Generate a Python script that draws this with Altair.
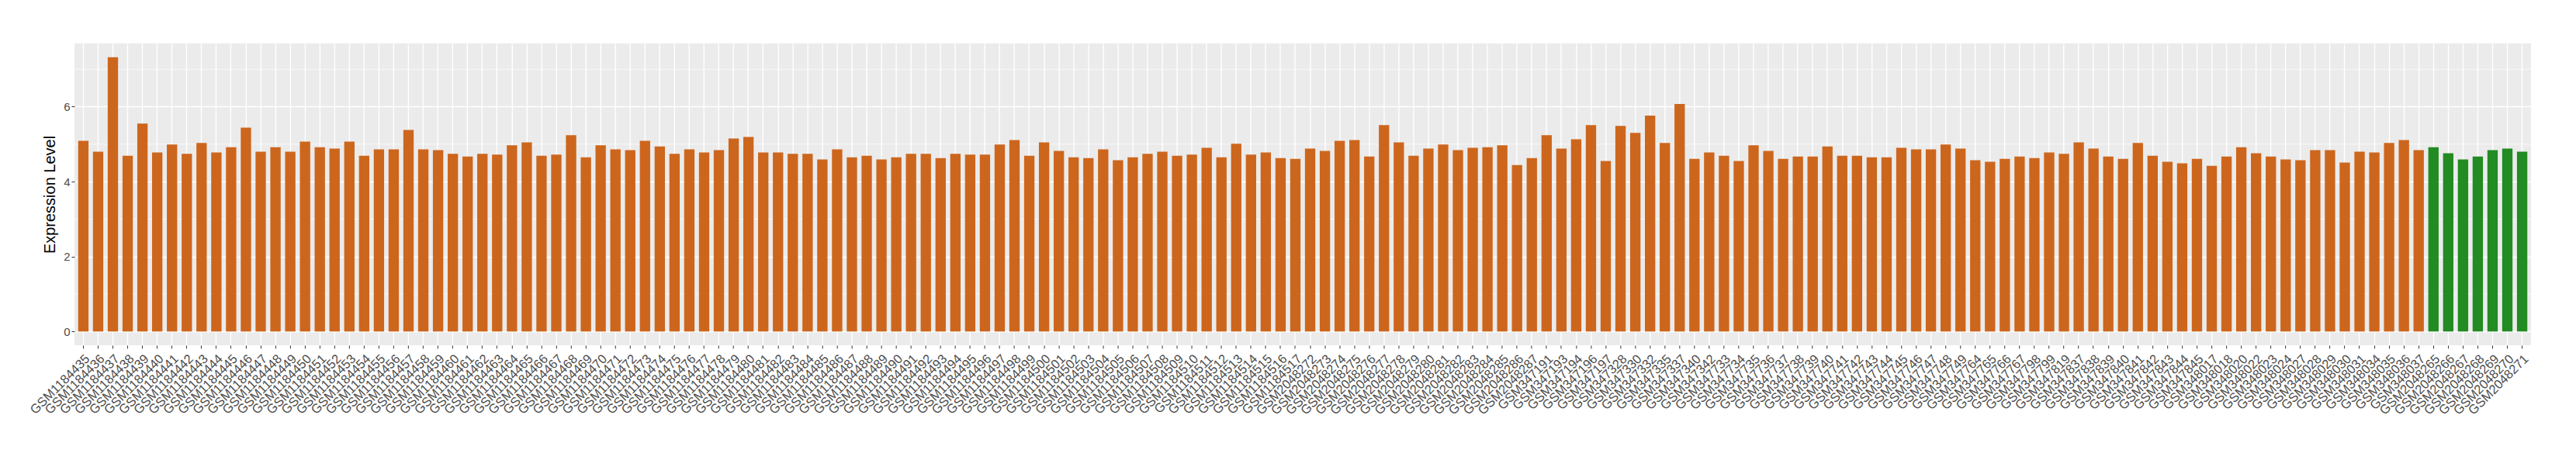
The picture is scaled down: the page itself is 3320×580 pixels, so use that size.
import altair as alt
import pandas as pd

# ---- data ----
ids_a = [f"GSM{n}" for n in range(1184435, 1184518)]
ids_b = [f"GSM{n}" for n in range(2048272, 2048288)]
ids_c = ["GSM347191", "GSM347193", "GSM347194", "GSM347196", "GSM347197",
         "GSM347328", "GSM347330", "GSM347332", "GSM347335", "GSM347337",
         "GSM347340", "GSM347342", "GSM347733", "GSM347734", "GSM347735",
         "GSM347736", "GSM347737", "GSM347738", "GSM347739", "GSM347740",
         "GSM347741", "GSM347742", "GSM347743", "GSM347744", "GSM347745",
         "GSM347746", "GSM347747", "GSM347748", "GSM347749", "GSM347764",
         "GSM347765", "GSM347766", "GSM347767", "GSM347798", "GSM347799",
         "GSM347819", "GSM347837", "GSM347838", "GSM347839", "GSM347840",
         "GSM347841", "GSM347842", "GSM347843", "GSM347844", "GSM347845",
         "GSM348017", "GSM348018", "GSM348020", "GSM348022", "GSM348023",
         "GSM348024", "GSM348027", "GSM348028", "GSM348029", "GSM348030",
         "GSM348031", "GSM348034", "GSM348035", "GSM348036", "GSM348037"]
ids_d = [f"GSM{n}" for n in range(2048265, 2048272)]

samples = ids_a + ids_b + ids_c + ids_d

values = [
    5.09, 4.80, 7.32, 4.69, 5.55, 4.78, 4.99, 4.74, 5.03, 4.78,
    4.92, 5.44, 4.80, 4.92, 4.80, 5.07, 4.92, 4.88, 5.07, 4.69,
    4.86, 4.86, 5.38, 4.86, 4.84, 4.74, 4.67, 4.74, 4.72, 4.97,
    5.05, 4.69, 4.72, 5.24, 4.65, 4.97, 4.86, 4.84, 5.09, 4.94,
    4.74, 4.86, 4.78, 4.84, 5.15, 5.19, 4.78, 4.78, 4.74, 4.74,
    4.59, 4.86, 4.65, 4.69, 4.59, 4.65, 4.74, 4.74, 4.63, 4.74,
    4.72, 4.72, 4.99, 5.11, 4.69, 5.05, 4.82, 4.65, 4.63, 4.86,
    4.57, 4.65, 4.74, 4.80, 4.69, 4.72, 4.90, 4.65, 5.01, 4.72,
    4.78, 4.63, 4.61, 4.88, 4.82, 5.09, 5.11, 4.67, 5.51, 5.05,
    4.69, 4.88, 4.99, 4.84, 4.90, 4.92, 4.97, 4.44, 4.63, 5.24,
    4.88, 5.13, 5.51, 4.55, 5.49, 5.30, 5.76, 5.03, 6.07, 4.61,
    4.78, 4.69, 4.55, 4.97, 4.82, 4.61, 4.67, 4.67, 4.94, 4.69,
    4.69, 4.65, 4.65, 4.90, 4.86, 4.86, 4.99, 4.88, 4.57, 4.53,
    4.61, 4.67, 4.63, 4.78, 4.74, 5.05, 4.88, 4.67, 4.61, 5.03,
    4.69, 4.53, 4.49, 4.61, 4.42, 4.67, 4.92, 4.76, 4.67, 4.59,
    4.57, 4.84, 4.84, 4.51, 4.80, 4.78, 5.03, 5.11, 4.84,
    4.92, 4.76, 4.59, 4.67, 4.84, 4.88, 4.80,
]

groups = ["case"] * (len(ids_a) + len(ids_b) + len(ids_c)) + ["control"] * len(ids_d)
group_names = ["case", "control"]
group_colors = ["#CD661D", "#228B22"]

y_ticks = [0, 2, 4, 6]
minor_ticks = [1, 3, 5, 7]
y_domain = [-0.366, 7.686]

df = pd.DataFrame({"sample": samples, "value": values, "group": groups})
minor_df = pd.DataFrame({"v": minor_ticks})

font = "Liberation Sans"

y_axis = alt.Axis(
    title="Expression Level", values=y_ticks, grid=True, gridColor="white",
    gridWidth=1.4, domain=False, tickColor="#333333", tickSize=4, tickWidth=1,
    labelFont=font, labelFontSize=15, labelColor="#4D4D4D", labelPadding=2,
    titleFont=font, titleFontSize=20, titleFontWeight="normal", titleColor="black",
    titlePadding=7,
)
y_scale = alt.Scale(domain=y_domain, nice=False, zero=False)

x_enc = alt.X(
    "sample:N", sort=None,
    scale=alt.Scale(paddingInner=0.3, paddingOuter=0.25),
    axis=alt.Axis(
        title=None, labelAngle=-45, labelAlign="right", labelBaseline="top",
        labelOverlap=False, labelBound=False, labelLimit=0, grid=True,
        gridColor="white", gridWidth=1.4, bandPosition=0.5, domain=False,
        tickColor="#333333", tickSize=4, tickWidth=1, labelPadding=5,
        labelFont=font, labelFontSize=16.5, labelColor="#4D4D4D",
    ),
)

minor = alt.Chart(minor_df).mark_rule(color="white", strokeWidth=0.7).encode(
    y=alt.Y("v:Q", scale=y_scale, axis=y_axis)
)

bars = alt.Chart(df).mark_bar().encode(
    x=x_enc,
    y=alt.Y("value:Q", scale=y_scale, axis=y_axis),
    y2=alt.datum(0),
    color=alt.Color("group:N", scale=alt.Scale(domain=group_names, range=group_colors), legend=None),
)

chart = alt.layer(minor, bars).properties(
    width=3167, height=389,
    autosize=alt.AutoSizeParams(type="none"),
    padding={"left": 88, "top": 48, "right": 50, "bottom": 130},
    background="white",
).configure_view(fill="#EBEBEB", stroke=None)

chart.save("out.html", embed_options={"renderer": "svg", "actions": False})
